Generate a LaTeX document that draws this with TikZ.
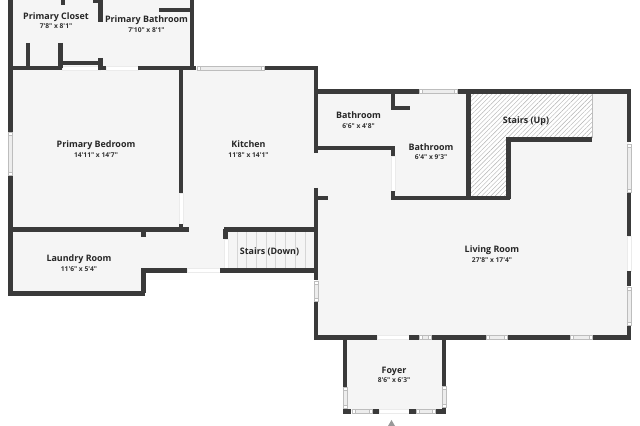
\documentclass[tikz,border=0pt]{standalone}
\usepackage{fontspec}
\newfontfamily\planfont{Open Sans}
\usetikzlibrary{patterns.meta}
\definecolor{wallc}{HTML}{3A3A3A}
\definecolor{floorc}{HTML}{F5F5F5}
\definecolor{framec}{HTML}{BDBDBD}
\begin{document}
\begin{tikzpicture}[x=0.025cm,y=-0.025cm,
  wall/.style={draw=wallc,line width=4.2*0.025cm,line cap=butt,line join=miter},
  winh/.style={draw=framec,fill=black!7,line width=0.4pt},
  winend/.style={draw=framec,fill=white,line width=0.3pt},
  doorway/.style={draw=black!8,line width=0.3pt,fill=white},
  roomname/.style={font=\planfont\bfseries\fontsize{6.35}{7}\selectfont,text=black!85,inner sep=0pt,anchor=base,yshift=-0.02cm},
  roomsize/.style={font=\planfont\bfseries\fontsize{4.75}{6}\selectfont,text=black!80,inner sep=0pt,anchor=base,yshift=-0.02cm}]
\useasboundingbox (0,0) rectangle (640,426);

\fill[floorc] (10,0) -- (192,0) -- (192,68) -- (316,68) -- (316,92) -- (629,92) -- (629,338)
  -- (444,338) -- (444,411) -- (345,411) -- (345,338) -- (316,338) -- (316,270) -- (143,270)
  -- (143,293) -- (10,293) -- cycle;

\fill[white] (470,93) rectangle (592,139);
\fill[white] (470,139) rectangle (507,197);
\path[pattern={Lines[angle=45,distance=2.3pt,line width=0.3pt]},pattern color=black!30] (470,93) -- (592,93) -- (592,138.5) -- (507,138.5) -- (507,197) -- (470,197) -- cycle;
\draw[framec,line width=0.5pt] (592,93) -- (592,138);

\foreach \x in {237,246.7,256.7,266,275.7,285.7,295,305}
  \draw[black!16,line width=0.6pt] (\x,231) -- (\x,268.5);

% doorways
\foreach \xa/\xb/\yy in {62/100/68,106/138/68,187/220/270.5,377/409/337.5,379/409/411.5}
  \draw[doorway] (\xa,\yy-1.9) rectangle (\xb,\yy+1.9);
\foreach \yy/\ya/\yb in {181/193/224,226.5/239/270,393/156/191,629/236/271}
  \draw[doorway] (\yy-1.9,\ya) rectangle (\yy+1.9,\yb);

% outer walls
\draw[wall] (10.5,0) -- (10.5,132);
\draw[wall] (10.5,175) -- (10.5,293.5) -- (145,293.5);
\draw[wall] (143.5,293.5) -- (143.5,270.5) -- (187,270.5);
\draw[wall] (220,270.5) -- (316,270.5);
\draw[wall] (9,68) -- (62,68);
\draw[wall] (138,68) -- (196,68);
\draw[wall] (264,68) -- (316,68) -- (316,153);
\draw[wall] (316,91.5) -- (419,91.5);
\draw[wall] (457,91.5) -- (629,91.5) -- (629,142);
\draw[wall] (629,193) -- (629,236);
\draw[wall] (629,271) -- (629,286);
\draw[wall] (629,325) -- (629,339.5);
\draw[wall] (316,188) -- (316,280);
\draw[wall] (316,301) -- (316,339);
\draw[wall] (314,337.5) -- (377,337.5);
\draw[wall] (409,337.5) -- (419,337.5);
\draw[wall] (431,337.5) -- (486,337.5);
\draw[wall] (507,337.5) -- (570,337.5);
\draw[wall] (592,337.5) -- (631,337.5);

% inner walls
\draw[wall] (192,0) -- (192,68);
\draw[wall] (159,10) -- (192,10);
\draw[wall] (63,0) -- (63,5);
\draw[wall] (93,1) -- (100.5,1) -- (100.5,22);
\draw[wall] (28,43) -- (28,68);
\draw[wall] (60.5,43) -- (60.5,68);
\draw[wall] (60,63) -- (100.5,63);
\draw[wall] (100.5,58) -- (100.5,68) -- (106,68);
\draw[wall] (181,68) -- (181,193);
\draw[wall] (181,224) -- (181,229);
\draw[wall] (10,229.5) -- (189,229.5);
\draw[wall] (143.5,229) -- (143.5,237);
\draw[wall] (224,229.5) -- (316,229.5);
\draw[wall] (225.5,229) -- (225.5,239);
\draw[wall] (316,148) -- (393,148) -- (393,156);
\draw[wall] (316,198) -- (328,198);
\draw[wall] (393,191) -- (393,198) -- (510,198);
\draw[wall] (393,91) -- (393,108) -- (410,108);
\draw[wall] (468.5,91) -- (468.5,198);
\draw[wall] (508.5,199.5) -- (508.5,139.5) -- (592,139.5);

% foyer
\draw[wall] (345,338) -- (345,387);
\draw[wall] (444,338) -- (444,386);
\draw[wall] (345,408) -- (345,413.5);
\draw[wall] (444,407) -- (444,413.5);
\draw[wall] (343,411.5) -- (351,411.5);
\draw[wall] (372,411.5) -- (379,411.5);
\draw[wall] (409,411.5) -- (416,411.5);
\draw[wall] (436,411.5) -- (446,411.5);

% windows
\foreach \xa/\xb/\yy in {197/264/68,419/457/91.5,419/431/337.5,486/507/337.5,570/592/337.5,352/372/411.5,416/435/411.5}{
  \draw[winh] (\xa,\yy-1.9) rectangle (\xb,\yy+1.9);
  \draw[winend] (\xa,\yy-1.9) rectangle (\xa+3,\yy+1.9);
  \draw[winend] (\xb-3,\yy-1.9) rectangle (\xb,\yy+1.9);
}
\foreach \yy/\ya/\yb in {10.5/132/175,629/144/192,629/287/325,316/281/301,345/387/408,444/386/407}{
  \draw[winh] (\yy-1.9,\ya) rectangle (\yy+1.9,\yb);
  \draw[winend] (\yy-1.9,\ya) rectangle (\yy+1.9,\ya+3);
  \draw[winend] (\yy-1.9,\yb-3) rectangle (\yy+1.9,\yb);
}

\fill[black!40] (391.5,420) -- (395,426) -- (388,426) -- cycle;

\node[roomname] (closet) at (56,19) {Primary Closet};
\node[roomsize] (closetsize) at (56,28) {7'8" x 8'1"};
\node[roomname] (bath1) at (146.5,22) {Primary Bathroom};
\node[roomsize] (bath1size) at (146.5,31.3) {7'10" x 8'1"};
\node[roomname] (bedroom) at (96,147) {Primary Bedroom};
\node[roomsize] (bedroomsize) at (96,156.7) {14'11" x 14'7"};
\node[roomname] (kitchen) at (248.5,147) {Kitchen};
\node[roomsize] (kitchensize) at (248.5,156.7) {11'8" x 14'1"};
\node[roomname] (bath2) at (358.5,118) {Bathroom};
\node[roomsize] (bath2size) at (358.5,127.3) {6'6" x 4'8"};
\node[roomname] (bath3) at (431,150) {Bathroom};
\node[roomsize] (bath3size) at (431,159) {6'4" x 9'3"};
\node[roomname] (stairsup) at (526,122.7) {Stairs (Up)};
\node[roomname] (living) at (492,252) {Living Room};
\node[roomsize] (livingsize) at (492,261.7) {27'8" x 17'4"};
\node[roomname] (laundry) at (79,261) {Laundry Room};
\node[roomsize] (laundrysize) at (79,270.7) {11'6" x 5'4"};
\node[roomname] (stairsdown) at (269.5,253.3) {Stairs (Down)};
\node[roomname] (foyer) at (394,372.7) {Foyer};
\node[roomsize] (foyersize) at (394,382) {8'6" x 6'3"};
\end{tikzpicture}
\end{document}
